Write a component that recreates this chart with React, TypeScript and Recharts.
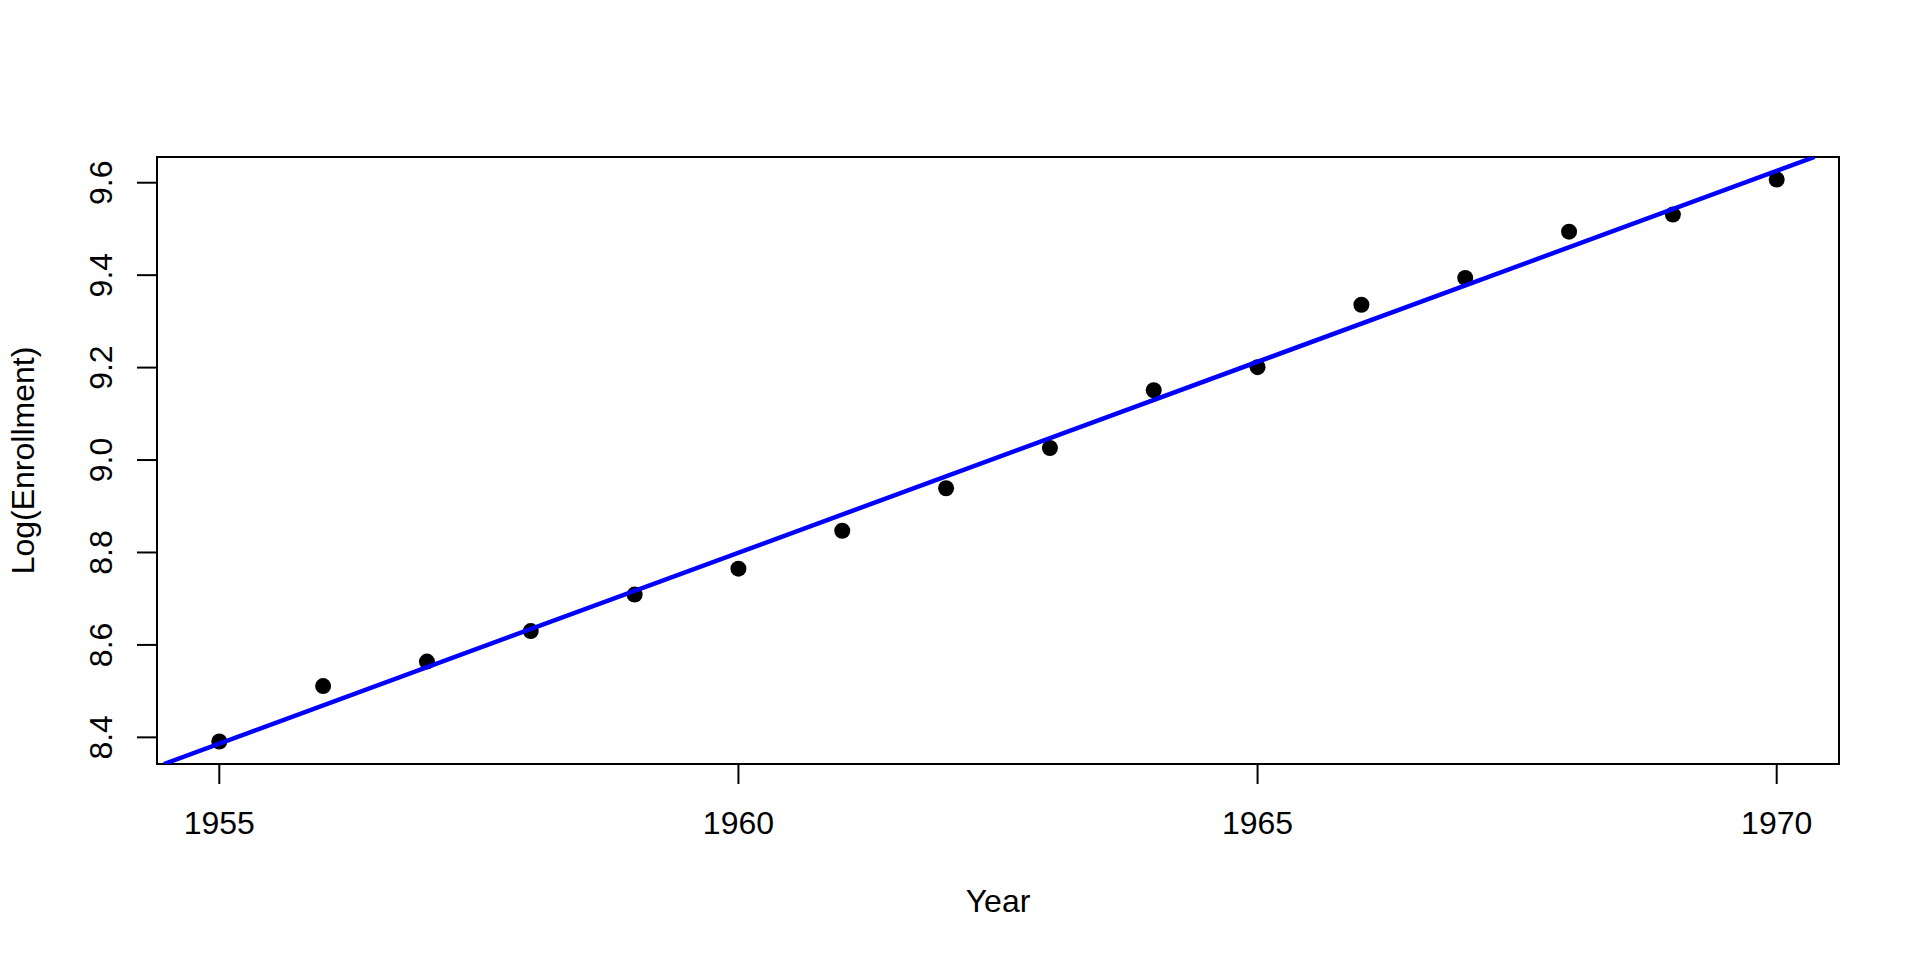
import { ScatterChart, Scatter, XAxis, YAxis, ReferenceArea } from 'recharts';

const years = [1955, 1956, 1957, 1958, 1959, 1960, 1961, 1962, 1963, 1964, 1965, 1966, 1967, 1968, 1969, 1970];
const logEnrollment = [
  8.391, 8.511, 8.564, 8.630, 8.709, 8.765, 8.847, 8.939,
  9.026, 9.151, 9.201, 9.336, 9.394, 9.494, 9.531, 9.607,
];
const xTicks = [1955, 1960, 1965, 1970];
const yTicks = [8.4, 8.6, 8.8, 9.0, 9.2, 9.4, 9.6];

const FONT = '"Liberation Sans", Arial, Helvetica, sans-serif';

const points = years.map((year, i) => ({ year, value: logEnrollment[i] }));

// R-style axis range: data range extended by 4% on each side
function padRange(vals: number[]): [number, number] {
  const lo = Math.min(...vals);
  const hi = Math.max(...vals);
  const ext = (hi - lo) * 0.04;
  return [lo - ext, hi + ext];
}
const xDomain = padRange(years);
const yDomain = padRange(logEnrollment);

// least squares fit, drawn like abline() and clipped to the plot box
const n = years.length;
const mx = years.reduce((s, v) => s + v, 0) / n;
const my = logEnrollment.reduce((s, v) => s + v, 0) / n;
const sxy = years.reduce((s, v, i) => s + (v - mx) * (logEnrollment[i] - my), 0);
const sxx = years.reduce((s, v) => s + (v - mx) * (v - mx), 0);
const slope = sxy / sxx;
const intercept = my - slope * mx;
const fitAt = (x: number) => intercept + slope * x;
const xAt = (y: number) => (y - intercept) / slope;
const x0 = Math.max(xDomain[0], xAt(yDomain[0]));
const x1 = Math.min(xDomain[1], xAt(yDomain[1]));
const fitLine = [
  { year: x0, value: fitAt(x0) },
  { year: x1, value: fitAt(x1) },
];

function YTick(props: any) {
  const { x, y, payload } = props;
  return (
    <text
      x={x}
      y={y}
      transform={`rotate(-90, ${x}, ${y})`}
      textAnchor="middle"
      fill="#000"
      fontSize={32}
      fontFamily={FONT}
    >
      {Number(payload.value).toFixed(1)}
    </text>
  );
}

function XTick(props: any) {
  const { x, y, payload } = props;
  return (
    <text x={x} y={y} dy="0.71em" textAnchor="middle" fill="#000" fontSize={32} fontFamily={FONT}>
      {payload.value}
    </text>
  );
}

function XTitle(props: any) {
  const vb = props.viewBox || { x: 157, y: 764, width: 1682, height: 60 };
  return (
    <text x={vb.x + vb.width / 2} y={vb.y + 148} textAnchor="middle" fill="#000" fontSize={32} fontFamily={FONT}>
      Year
    </text>
  );
}

function YTitle(props: any) {
  const vb = props.viewBox || { x: 0, y: 157, width: 157, height: 607 };
  const x = vb.x + 34;
  const y = vb.y + vb.height / 2;
  return (
    <text
      x={x}
      y={y}
      transform={`rotate(-90, ${x}, ${y})`}
      textAnchor="middle"
      fill="#000"
      fontSize={32}
      fontFamily={FONT}
    >
      Log(Enrollment)
    </text>
  );
}

const dot = (props: any) => <circle cx={props.cx} cy={props.cy} r={8} fill="#000" />;
const noDot = () => <g />;

export default function App() {
  return (
    <div style={{ position: 'absolute', left: 0, top: 0, width: 1920, height: 960, background: '#fff' }}>
      <ScatterChart width={1920} height={960} margin={{ top: 157, right: 81, bottom: 136, left: 0 }}>
        <XAxis
          dataKey="year"
          type="number"
          domain={xDomain}
          ticks={xTicks}
          allowDataOverflow
          height={60}
          axisLine={false}
          tickSize={20}
          tickMargin={27}
          tickLine={{ stroke: '#000', strokeWidth: 2 }}
          tick={<XTick />}
          label={<XTitle />}
        />
        <YAxis
          dataKey="value"
          type="number"
          domain={yDomain}
          ticks={yTicks}
          allowDataOverflow
          width={157}
          axisLine={false}
          tickSize={20}
          tickMargin={25}
          tickLine={{ stroke: '#000', strokeWidth: 2 }}
          tick={<YTick />}
          label={<YTitle />}
        />
        <ReferenceArea
          x1={xDomain[0]}
          x2={xDomain[1]}
          y1={yDomain[0]}
          y2={yDomain[1]}
          fill="none"
          stroke="#000"
          strokeWidth={2}
          ifOverflow="visible"
        />
        <Scatter data={points} shape={dot} isAnimationActive={false} />
        <Scatter
          data={fitLine}
          line={{ stroke: '#0000ff', strokeWidth: 4.5 }}
          shape={noDot}
          isAnimationActive={false}
        />
      </ScatterChart>
    </div>
  );
}
